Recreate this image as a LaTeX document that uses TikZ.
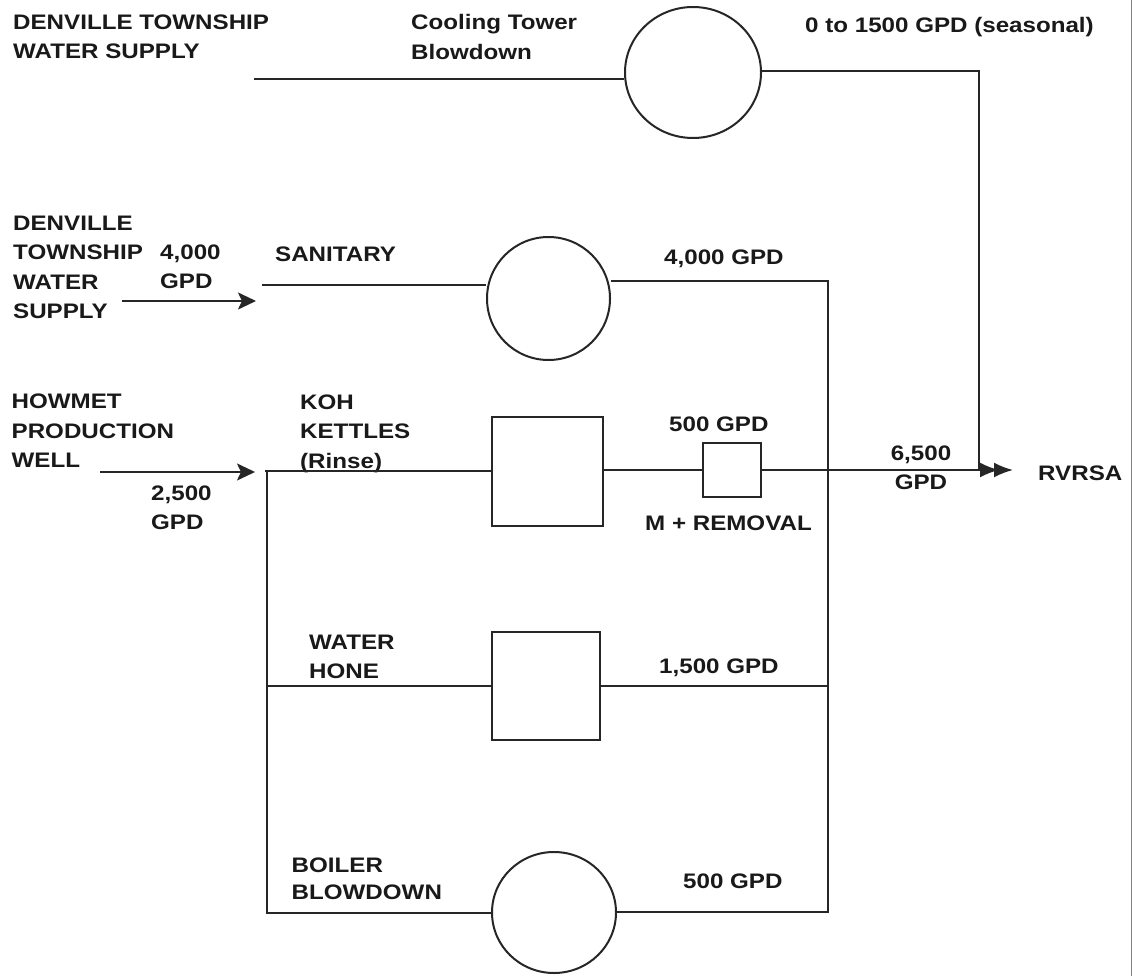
\documentclass[tikz,border=0pt]{standalone}
\usepackage{fontspec}
\setmainfont{Liberation Sans}[FakeStretch=1.15]
\usetikzlibrary{arrows.meta,shapes.geometric}
\begin{document}
\begin{tikzpicture}[x=1pt,y=-1pt,
  lbl/.style={inner sep=0pt, anchor=north west, align=left, text=black!90, font=\fontsize{21}{29.5}\selectfont\bfseries},
  ln/.style={line width=2pt, black!85},
  circ/.style={ellipse, draw=black!85, line width=2pt, inner sep=0pt},
  boxn/.style={rectangle, draw=black!85, line width=2pt, inner sep=0pt},
  arr/.style={ln, -{Stealth[length=18pt,width=17pt,inset=4pt]}},
  dblarr/.style={ln, -{Latex[length=19pt,width=15pt,sep=-5pt]Latex[length=19pt,width=15pt]}},
  border/.style={line width=1pt, gray}
]
\fill[white] (0,0) rectangle (1140,976);
\useasboundingbox (0,0) rectangle (1140,976);

% labels
\node[lbl] (dtws1) at (13,14.5) {DENVILLE TOWNSHIP\\WATER SUPPLY};
\node[lbl] (ctb) at (411,14.5) {Cooling Tower\\Blowdown};
\node[lbl] (seas) at (805,17.5) {0 to 1500 GPD (seasonal)};
\node[lbl] (dtws2) at (13,215.5) {DENVILLE\\TOWNSHIP\\WATER\\SUPPLY};
\node[lbl] (q4000a) at (160,244.5) {4,000\\GPD};
\node[lbl] (sanl) at (275,246.5) {SANITARY};
\node[lbl] (q4000b) at (664,249.5) {4,000 GPD};
\node[lbl] (howl) at (11.5,394) {HOWMET\\PRODUCTION\\WELL};
\node[lbl] (kohl) at (300,394.5) {KOH\\KETTLES\\(Rinse)};
\node[lbl] (q2500) at (151,485.5) {2,500\\GPD};
\node[lbl] (q500a) at (669,416.5) {500 GPD};
\node[lbl] (mrem) at (645,515.5) {M + REMOVAL};
\node[lbl, anchor=north, align=center] (q6500) at (921,445.5) {6,500\\GPD};
\node[lbl] (rvrsa) at (1038,465.5) {RVRSA};
\node[lbl] (whl) at (309,634.5) {WATER\\HONE};
\node[lbl] (q1500) at (659,658.5) {1,500 GPD};
\node[lbl, font=\fontsize{21}{27}\selectfont\bfseries] (bbl) at (291.5,857.5) {BOILER\\BLOWDOWN};
\node[lbl] (q500b) at (683,873.5) {500 GPD};

% process shapes
\node[circ, minimum width=136pt, minimum height=131pt] (ct) at (693,72.5) {};
\node[circ, minimum width=123pt, minimum height=123pt] (san) at (548.5,298.5) {};
\node[circ, minimum width=124pt, minimum height=121pt] (boil) at (554,912.5) {};
\node[boxn, minimum width=111pt, minimum height=109pt] (koh) at (547.5,471.5) {};
\node[boxn, minimum width=58pt, minimum height=54pt] (mbox) at (732,470) {};
\node[boxn, minimum width=108pt, minimum height=108pt] (hone) at (546,686) {};

% coordinates
\coordinate (t0) at (254,79);
\coordinate (tc) at (979,71);
\coordinate (jr) at (979,470);
\coordinate (rv) at (1013,470);
\coordinate (a1s) at (122,301);
\coordinate (a1e) at (256,301);
\coordinate (s0) at (262,285);
\coordinate (sR) at (828,281);
\coordinate (rB) at (828,912);
\coordinate (a2s) at (100,472);
\coordinate (a2e) at (255,472);
\coordinate (kL) at (265,471);
\coordinate (lT) at (267,471);
\coordinate (lB) at (267,913);
\coordinate (bt) at (1131,0);
\coordinate (bb) at (1131,976);

% connectors
\draw[ln] (t0) -- (t0 -| ct.west);
\draw[ln] (ct.east |- tc) -- (tc) -- (jr);
\draw[arr] (a1s) -- (a1e);
\draw[ln] (s0) -- (s0 -| san.west);
\draw[ln] (san.east |- sR) -- (sR) -- (rB) -- (rB -| boil.east);
\draw[arr] (a2s) -- (a2e);
\draw[ln] (kL) -- (kL -| koh.west);
\draw[ln] (lT) -- (lB) -- (lB -| boil.west);
\draw[ln] (koh.east |- mbox) -- (mbox.west);
\draw[dblarr] (mbox.east) -- (rv);
\draw[ln] (lT |- hone) -- (hone.west);
\draw[ln] (hone.east) -- (hone.east -| sR);
\draw[border] (bt) -- (bb);
\end{tikzpicture}
\end{document}
